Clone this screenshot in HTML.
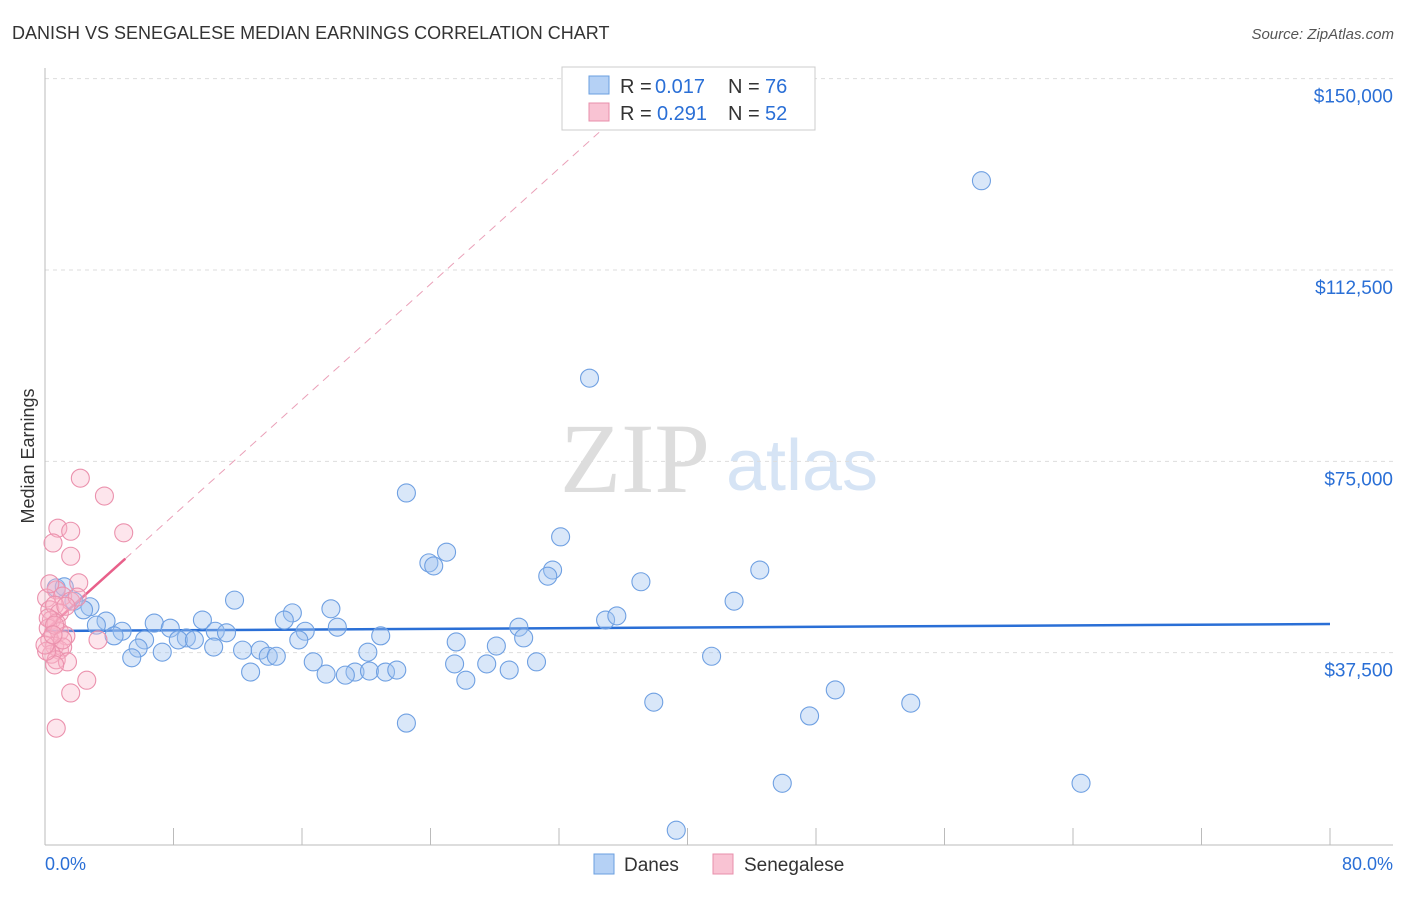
<!DOCTYPE html>
<html><head><meta charset="utf-8"><style>
body{margin:0;background:#fff;font-family:"Liberation Sans",sans-serif}
svg text{font-family:"Liberation Sans",sans-serif}
</style></head><body>
<svg id="c" width="1406" height="892">
<text x="12" y="39" font-size="18" fill="#333">DANISH VS SENEGALESE MEDIAN EARNINGS CORRELATION CHART</text>
<text x="1394" y="39" font-size="15" fill="#555" font-style="italic" text-anchor="end">Source: ZipAtlas.com</text>
<text x="34" y="456" font-size="18" fill="#333" transform="rotate(-90 34 456)" text-anchor="middle">Median Earnings</text>
<g><text x="635" y="492" font-size="100" fill="#ddd" style="font-family:'Liberation Serif',serif" text-anchor="middle">ZIP</text><text x="802" y="490" font-size="72" fill="#d6e4f5" text-anchor="middle">atlas</text></g>
<g id="grid"></g><g id="axes"></g><g id="lines"></g><g id="pts"></g>
<g>
<rect x="562" y="67" width="253" height="63" fill="#fff" stroke="#ccc"/>
<rect x="589" y="76" width="20" height="18" fill="#b5d1f5" stroke="#6a9fe0"/>
<text x="620" y="93" font-size="20" fill="#333">R =</text><text x="655" y="93" font-size="20" fill="#2a6fd6">0.017</text>
<text x="728" y="93" font-size="20" fill="#333">N =</text><text x="765" y="93" font-size="20" fill="#2a6fd6">76</text>
<rect x="589" y="103" width="20" height="18" fill="#f9c3d3" stroke="#e88fab"/>
<text x="620" y="120" font-size="20" fill="#333">R =</text><text x="657" y="120" font-size="20" fill="#2a6fd6">0.291</text>
<text x="728" y="120" font-size="20" fill="#333">N =</text><text x="765" y="120" font-size="20" fill="#2a6fd6">52</text>
</g>
<g>
<rect x="594" y="854" width="20" height="20" fill="#b5d1f5" stroke="#6a9fe0"/>
<text x="624" y="871" font-size="19" fill="#333">Danes</text>
<rect x="713" y="854" width="20" height="20" fill="#f9c3d3" stroke="#e88fab"/>
<text x="744" y="871" font-size="19" fill="#333">Senegalese</text>
</g>
<text x="45" y="870" font-size="18" fill="#2a6fd6">0.0%</text>
<text x="1393" y="870" font-size="18" fill="#2a6fd6" text-anchor="end">80.0%</text>
</svg>
<script>
const yTicks=[150000,112500,75000,37500];
const yTickLabels=["$150,000","$112,500","$75,000","$37,500"];
const xTicks=[8,16,24,32,40,48,56,64,72,80];
const danesX=[58.3,33.9,22.5,32.1,23.9,25.0,24.2,31.6,31.3,37.1,44.5,0.7,1.2,1.8,2.8,2.4,11.8,42.9,15.4,17.8,14.9,9.8,34.9,35.6,3.8,3.2,4.8,6.8,7.8,18.2,29.5,10.6,11.3,8.8,8.3,9.3,16.2,6.2,4.3,20.9,15.8,29.8,25.6,28.1,5.8,7.3,10.5,12.3,13.4,20.1,13.9,14.4,5.4,41.5,16.7,25.5,27.5,30.6,12.8,17.5,19.3,20.2,21.2,21.9,18.7,28.9,26.2,49.2,37.9,53.9,22.5,47.6,45.9,64.5,39.3];
const danesY=[130000,91300,68800,60200,55100,57200,54500,53700,52500,51400,53700,50200,50400,47600,46500,45900,47800,47600,45300,46100,43900,43900,43900,44700,43700,42900,41700,43300,42300,42500,42500,41700,41400,40400,40000,40000,41700,40000,40800,40800,40000,40400,39600,38800,38400,37600,38600,38000,38000,37600,36800,36800,36500,36800,35700,35300,35300,35700,33700,33300,33700,33900,33700,34100,33100,34100,32100,30200,27800,27600,23700,25100,11900,11900,2700];
const senX=[2.2,3.7,0.8,1.6,4.9,0.5,1.6,2.1,0.7,0.1,1.1,1.6,2.0,0.3,0.6,0.9,0.4,0.7,0.2,0.9,1.3,0.3,0.6,0.9,1.1,0.4,0.7,1.4,0.6,0.1,3.3,2.6,1.6,0.7,0.2,0.6,0.0,1.3,0.3,1.1,0.5];
const senY=[71700,68200,61900,61300,61000,59000,56400,51200,49800,48200,48600,47600,48400,45900,46800,45300,43900,43300,42300,41600,40800,40000,38800,38000,38600,37200,36100,35700,35100,37800,40000,32100,29600,22700,44300,42900,39000,46600,51000,40000,41000];
const danesFit=[41750,43120];
const senFit=[41750,2833];
const X=v=>45+v/80*1285, Y=v=>844-v/37500*191.33;
const NS="http://www.w3.org/2000/svg";
function mk(t,a,p){const e=document.createElementNS(NS,t);for(const k in a)e.setAttribute(k,a[k]);p.appendChild(e);return e;}
const grid=document.getElementById('grid'),axes=document.getElementById('axes'),lines=document.getElementById('lines'),pts=document.getElementById('pts');
yTicks.forEach((v,i)=>{
 const l=mk('line',{x1:45,x2:1393,y1:Y(v),y2:Y(v),stroke:'#ddd','stroke-dasharray':'4,4'},grid);
 
 
 const t=mk('text',{x:1393,y:Y(v)+24,'font-size':19,fill:'#2a6fd6','text-anchor':'end'},grid);
 t.textContent=yTickLabels[i];
 
 
});
const ya=mk('line',{x1:45,x2:45,y1:68,y2:845,stroke:'#bbb'},axes);


const xa=mk('line',{x1:45,x2:1393,y1:845,y2:845,stroke:'#bbb'},axes);


xTicks.forEach(v=>{const t=mk('line',{x1:X(v),x2:X(v),y1:828,y2:845,stroke:'#bbb'},axes);
 
 });
const bl=mk('line',{x1:X(0),y1:Y(danesFit[0]),x2:X(80),y2:Y(danesFit[1]),stroke:'#2a6fd6','stroke-width':2.5},lines);


const sy=x=>senFit[0]+senFit[1]*x;
const xEnd=5.0, xDash=Math.min((150000-senFit[0])/senFit[1],34.5);
const pd=mk('line',{x1:X(xEnd),y1:Y(sy(xEnd)),x2:X(xDash),y2:Y(sy(xDash)),stroke:'#eaa0b8','stroke-width':1,'stroke-dasharray':'8,6'},lines);


const ps=mk('line',{x1:X(0),y1:Y(sy(0)),x2:X(xEnd),y2:Y(sy(xEnd)),stroke:'#e8608a','stroke-width':2.5},lines);


danesX.forEach((x,i)=>{const c=mk('circle',{cx:X(x),cy:Y(danesY[i]),r:9,fill:'rgba(160,196,240,0.4)',stroke:'#6fa0e2','stroke-width':1.1},pts);
 
 });
senX.forEach((x,i)=>{const c=mk('circle',{cx:X(x),cy:Y(senY[i]),r:9,fill:'rgba(248,180,200,0.35)',stroke:'#eb91ad','stroke-width':1.1},pts);
 
 });
</script>
</body></html>
